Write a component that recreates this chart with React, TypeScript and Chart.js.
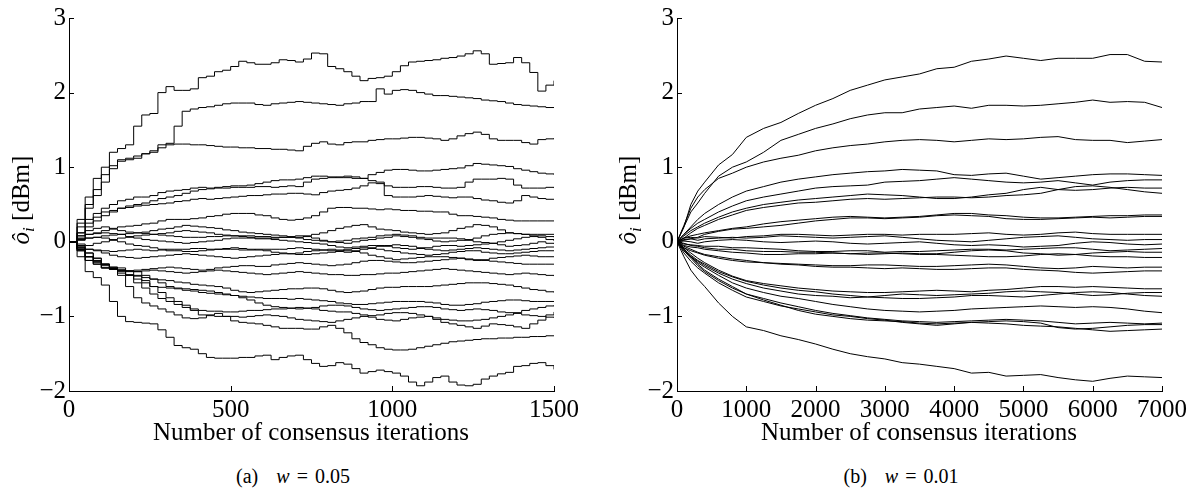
import React, { useEffect, useRef } from 'react';
import { Chart, registerables } from 'chart.js';
Chart.register(...registerables);

// ---------- x grids ----------
const ITER_A = [0,25,50,75,100,125,150,175,200,225,250,275,300,325,350,375,400,425,450,475,500,525,550,575,600,625,650,675,700,725,750,775,800,825,850,875,900,925,950,975,1000,1025,1050,1075,1100,1125,1150,1175,1200,1225,1250,1275,1300,1325,1350,1375,1400,1425,1450,1475,1500];
const ITER_B = [0,100,200,300,400,600,800,1000,1250,1500,1750,2000,2250,2500,2750,3000,3250,3500,3750,4000,4250,4500,4750,5000,5250,5500,5750,6000,6250,6500,6750,7000];

// ---------- tick labels ----------
const Y_TICKS = [-2,-1,0,1,2,3];
const X_TICKS_A = [0,500,1000,1500];
const X_TICKS_B = [0,1000,2000,3000,4000,5000,6000,7000];

// ---------- panel (a) w = 0.05 ----------
const A01 = [0,0.3,0.6,0.85,1.0,1.2,1.25,1.3,1.55,1.7,1.72,2.0,2.08,2.03,2.03,2.05,2.2,2.22,2.28,2.3,2.35,2.42,2.4,2.38,2.38,2.4,2.44,2.43,2.41,2.45,2.53,2.52,2.35,2.32,2.28,2.22,2.16,2.19,2.2,2.22,2.28,2.36,2.41,2.42,2.43,2.44,2.46,2.47,2.49,2.52,2.56,2.52,2.38,2.39,2.4,2.47,2.4,2.27,2.02,2.1,2.16];
const A02 = [0,0.2,0.45,0.62,0.8,0.98,1.08,1.1,1.12,1.18,1.22,1.3,1.32,1.55,1.75,1.78,1.8,1.81,1.83,1.85,1.86,1.86,1.86,1.84,1.83,1.85,1.86,1.87,1.88,1.87,1.86,1.85,1.84,1.83,1.85,1.86,1.88,1.88,2.05,1.98,2.03,2.04,2.03,2.0,1.98,1.96,1.96,1.95,1.94,1.93,1.92,1.9,1.89,1.88,1.86,1.84,1.83,1.82,1.81,1.8,1.8];
const A03 = [0,0.25,0.5,0.7,0.9,1.02,1.1,1.12,1.15,1.18,1.2,1.26,1.3,1.31,1.31,1.3,1.3,1.29,1.28,1.27,1.27,1.26,1.26,1.25,1.25,1.24,1.24,1.23,1.22,1.28,1.32,1.34,1.31,1.3,1.33,1.34,1.34,1.36,1.37,1.38,1.38,1.39,1.4,1.4,1.39,1.38,1.36,1.38,1.42,1.45,1.47,1.44,1.38,1.36,1.36,1.36,1.33,1.31,1.37,1.38,1.39];
const A04 = [0,0.12,0.3,0.38,0.45,0.5,0.55,0.57,0.6,0.6,0.62,0.66,0.68,0.69,0.7,0.72,0.73,0.72,0.73,0.74,0.75,0.75,0.76,0.78,0.8,0.82,0.83,0.83,0.84,0.86,0.88,0.88,0.87,0.86,0.86,0.85,0.85,0.9,0.93,0.96,0.97,0.97,0.96,0.95,0.95,0.96,0.97,0.98,0.99,1.02,1.05,1.04,1.03,1.02,1.01,0.98,0.96,0.94,0.92,0.91,0.9];
const A05 = [0,0.08,0.2,0.28,0.35,0.4,0.45,0.48,0.5,0.52,0.55,0.58,0.6,0.62,0.65,0.68,0.7,0.71,0.72,0.72,0.73,0.73,0.73,0.74,0.74,0.73,0.74,0.75,0.74,0.8,0.84,0.85,0.86,0.87,0.88,0.87,0.85,0.82,0.8,0.75,0.73,0.73,0.73,0.74,0.74,0.73,0.72,0.72,0.73,0.8,0.84,0.84,0.84,0.85,0.84,0.76,0.72,0.72,0.72,0.73,0.72];
const A06 = [0,0.12,0.25,0.33,0.4,0.42,0.45,0.46,0.48,0.49,0.5,0.51,0.52,0.54,0.55,0.57,0.58,0.57,0.58,0.59,0.6,0.61,0.62,0.62,0.63,0.64,0.64,0.65,0.65,0.64,0.63,0.66,0.68,0.69,0.7,0.72,0.75,0.79,0.78,0.62,0.6,0.6,0.6,0.61,0.62,0.61,0.6,0.59,0.6,0.6,0.58,0.56,0.55,0.53,0.52,0.55,0.62,0.6,0.58,0.57,0.57];
const A07 = [0,0.05,0.1,0.12,0.15,0.18,0.2,0.21,0.22,0.24,0.25,0.28,0.3,0.3,0.3,0.31,0.32,0.34,0.35,0.37,0.38,0.38,0.38,0.36,0.35,0.32,0.3,0.29,0.3,0.32,0.35,0.4,0.45,0.46,0.46,0.45,0.45,0.44,0.43,0.44,0.43,0.42,0.42,0.41,0.41,0.4,0.4,0.37,0.35,0.35,0.34,0.33,0.32,0.3,0.29,0.28,0.28,0.28,0.28,0.28,0.28];
const A08 = [0,0.02,0.05,0.06,0.08,0.09,0.1,0.11,0.12,0.11,0.1,0.09,0.08,0.07,0.06,0.06,0.06,0.07,0.07,0.08,0.08,0.08,0.08,0.07,0.07,0.06,0.06,0.06,0.06,0.08,0.1,0.12,0.15,0.18,0.2,0.22,0.23,0.2,0.17,0.16,0.15,0.13,0.12,0.11,0.1,0.11,0.12,0.15,0.18,0.2,0.23,0.22,0.2,0.16,0.12,0.11,0.1,0.1,0.1,0.1,0.1];
const A09 = [0,0.04,0.1,0.11,0.12,0.11,0.1,0.07,0.05,0.03,0.02,0.01,0,-0.01,-0.02,-0.01,0,0.01,0.02,0.04,0.05,0.05,0.05,0.04,0.04,0.05,0.06,0.07,0.08,0.07,0.05,0.02,0,-0.01,-0.02,0,0.02,0.03,0.05,0.06,0.08,0.07,0.06,0.04,0.03,0.01,0,0.01,0.02,0.03,0.05,0.08,0.1,0.11,0.12,0.11,0.1,0.08,0.06,0.03,0.01];
const A10 = [0,-0.03,-0.05,-0.02,0,0.03,0.05,0.06,0.08,0.09,0.1,0.11,0.12,0.14,0.15,0.14,0.13,0.12,0.1,0.09,0.08,0.07,0.06,0.05,0.05,0.03,0.02,0.01,0,-0.01,-0.02,-0.03,-0.05,-0.07,-0.08,-0.07,-0.06,-0.05,-0.05,-0.06,-0.08,-0.09,-0.1,-0.09,-0.08,-0.06,-0.05,-0.05,-0.06,-0.05,-0.04,-0.03,-0.02,-0.04,-0.06,-0.05,-0.04,-0.02,0,-0.02,-0.03];
const A11 = [0,-0.05,-0.1,-0.11,-0.12,-0.13,-0.12,-0.11,-0.1,-0.11,-0.12,-0.11,-0.1,-0.1,-0.1,-0.09,-0.09,-0.1,-0.1,-0.1,-0.1,-0.11,-0.11,-0.1,-0.1,-0.1,-0.1,-0.09,-0.08,-0.09,-0.1,-0.11,-0.12,-0.13,-0.14,-0.12,-0.1,-0.08,-0.06,-0.05,-0.04,-0.05,-0.06,-0.08,-0.1,-0.11,-0.12,-0.11,-0.1,-0.09,-0.08,-0.09,-0.1,-0.11,-0.12,-0.11,-0.1,-0.09,-0.08,-0.07,-0.07];
const A12 = [0,0.03,0.05,0.06,0.05,0.02,0,-0.03,-0.05,-0.06,-0.08,-0.1,-0.12,-0.12,-0.13,-0.13,-0.12,-0.11,-0.1,-0.09,-0.08,-0.09,-0.1,-0.11,-0.12,-0.14,-0.15,-0.16,-0.17,-0.17,-0.16,-0.15,-0.14,-0.12,-0.1,-0.09,-0.08,-0.09,-0.1,-0.12,-0.13,-0.15,-0.16,-0.17,-0.18,-0.17,-0.16,-0.14,-0.13,-0.12,-0.12,-0.14,-0.15,-0.16,-0.16,-0.15,-0.14,-0.13,-0.12,-0.12,-0.12];
const A13 = [0,-0.06,-0.1,-0.12,-0.15,-0.18,-0.2,-0.21,-0.22,-0.21,-0.2,-0.19,-0.18,-0.17,-0.16,-0.17,-0.18,-0.19,-0.2,-0.21,-0.22,-0.21,-0.2,-0.19,-0.18,-0.17,-0.16,-0.16,-0.15,-0.13,-0.12,-0.11,-0.1,-0.11,-0.12,-0.13,-0.15,-0.18,-0.2,-0.22,-0.24,-0.23,-0.22,-0.21,-0.2,-0.2,-0.2,-0.21,-0.22,-0.24,-0.25,-0.24,-0.22,-0.21,-0.2,-0.19,-0.18,-0.19,-0.2,-0.2,-0.2];
const A14 = [0,-0.1,-0.2,-0.25,-0.3,-0.34,-0.38,-0.39,-0.38,-0.37,-0.36,-0.35,-0.34,-0.35,-0.36,-0.37,-0.38,-0.37,-0.35,-0.34,-0.33,-0.32,-0.32,-0.33,-0.33,-0.31,-0.3,-0.29,-0.28,-0.29,-0.3,-0.31,-0.32,-0.31,-0.3,-0.28,-0.26,-0.25,-0.25,-0.26,-0.27,-0.28,-0.28,-0.27,-0.26,-0.25,-0.24,-0.23,-0.22,-0.23,-0.24,-0.25,-0.26,-0.27,-0.28,-0.29,-0.3,-0.3,-0.3,-0.3,-0.3];
const A15 = [0,-0.12,-0.25,-0.3,-0.35,-0.37,-0.38,-0.39,-0.4,-0.39,-0.38,-0.39,-0.4,-0.41,-0.42,-0.41,-0.4,-0.39,-0.38,-0.39,-0.4,-0.41,-0.42,-0.43,-0.44,-0.43,-0.42,-0.41,-0.4,-0.41,-0.42,-0.43,-0.44,-0.44,-0.45,-0.45,-0.44,-0.44,-0.43,-0.42,-0.42,-0.41,-0.4,-0.39,-0.38,-0.37,-0.36,-0.37,-0.38,-0.39,-0.4,-0.41,-0.42,-0.43,-0.44,-0.43,-0.42,-0.43,-0.44,-0.45,-0.46];
const A16 = [0,0.08,0.15,0.18,0.2,0.17,0.15,0.13,0.12,0.13,0.15,0.17,0.18,0.2,0.22,0.21,0.2,0.19,0.18,0.16,0.15,0.13,0.12,0.11,0.1,0.09,0.08,0.06,0.05,0.03,0.02,0.01,0,0.01,0.02,0.04,0.05,0.06,0.08,0.09,0.1,0.09,0.08,0.06,0.05,0.05,0.05,0.05,0.04,0.02,0,-0.01,-0.02,0,0.02,0.04,0.06,0.07,0.08,0.07,0.06];
const A17 = [0,-0.08,-0.15,-0.22,-0.3,-0.36,-0.42,-0.44,-0.46,-0.48,-0.5,-0.51,-0.52,-0.54,-0.55,-0.57,-0.58,-0.59,-0.6,-0.62,-0.65,-0.67,-0.68,-0.67,-0.66,-0.65,-0.64,-0.63,-0.63,-0.62,-0.62,-0.63,-0.65,-0.67,-0.68,-0.67,-0.66,-0.64,-0.62,-0.61,-0.61,-0.6,-0.6,-0.6,-0.6,-0.59,-0.58,-0.57,-0.56,-0.55,-0.55,-0.55,-0.56,-0.57,-0.58,-0.6,-0.62,-0.64,-0.65,-0.67,-0.68];
const A18 = [0,-0.1,-0.2,-0.28,-0.35,-0.37,-0.4,-0.45,-0.5,-0.55,-0.6,-0.61,-0.62,-0.62,-0.63,-0.64,-0.65,-0.66,-0.68,-0.7,-0.72,-0.73,-0.74,-0.75,-0.76,-0.76,-0.76,-0.77,-0.76,-0.77,-0.78,-0.79,-0.8,-0.82,-0.83,-0.84,-0.84,-0.83,-0.82,-0.81,-0.8,-0.8,-0.8,-0.8,-0.81,-0.82,-0.84,-0.85,-0.85,-0.84,-0.83,-0.81,-0.8,-0.79,-0.78,-0.78,-0.79,-0.8,-0.8,-0.8,-0.8];
const A19 = [0,-0.12,-0.25,-0.3,-0.35,-0.36,-0.38,-0.45,-0.55,-0.62,-0.7,-0.76,-0.8,-0.84,-0.88,-0.9,-0.92,-0.93,-0.93,-0.94,-0.94,-0.93,-0.92,-0.92,-0.91,-0.9,-0.9,-0.89,-0.88,-0.89,-0.9,-0.92,-0.93,-0.94,-0.94,-0.96,-0.98,-1.01,-1.04,-1.05,-1.06,-1.04,-1.02,-1.01,-1.0,-1.02,-1.04,-1.05,-1.06,-1.06,-1.05,-1.04,-1.02,-1.0,-0.98,-0.95,-0.92,-0.9,-0.88,-0.86,-0.85];
const A20 = [0,-0.1,-0.2,-0.26,-0.32,-0.34,-0.35,-0.4,-0.45,-0.52,-0.6,-0.68,-0.75,-0.8,-0.85,-0.92,-0.98,-0.99,-1.0,-1.0,-1.0,-1.01,-1.0,-0.99,-0.98,-0.99,-1.0,-1.02,-1.04,-1.05,-1.06,-1.07,-1.08,-1.06,-1.04,-1.02,-1.0,-0.99,-0.98,-0.96,-0.95,-0.95,-0.96,-0.98,-1.0,-1.04,-1.08,-1.1,-1.12,-1.14,-1.16,-1.13,-1.1,-1.11,-1.12,-1.14,-1.16,-1.1,-1.05,-0.98,-0.94];
const A21 = [0,-0.08,-0.15,-0.22,-0.3,-0.35,-0.38,-0.39,-0.4,-0.45,-0.5,-0.55,-0.6,-0.63,-0.65,-0.66,-0.68,-0.69,-0.7,-0.71,-0.72,-0.75,-0.78,-0.82,-0.85,-0.87,-0.88,-0.89,-0.9,-0.89,-0.88,-0.86,-0.85,-0.85,-0.86,-0.88,-0.9,-0.91,-0.92,-0.91,-0.9,-0.89,-0.88,-0.87,-0.87,-0.88,-0.9,-0.91,-0.92,-0.91,-0.9,-0.91,-0.92,-0.94,-0.95,-0.96,-0.98,-0.99,-1.0,-1.01,-1.02];
const A22 = [0,-0.1,-0.2,-0.26,-0.3,-0.36,-0.45,-0.6,-0.75,-0.82,-0.86,-0.9,-0.94,-0.98,-1.02,-1.03,-1.02,-0.98,-0.96,-1.0,-1.06,-1.08,-1.09,-1.1,-1.12,-1.14,-1.16,-1.16,-1.16,-1.17,-1.17,-1.14,-1.12,-1.16,-1.22,-1.3,-1.35,-1.38,-1.42,-1.44,-1.45,-1.45,-1.44,-1.42,-1.4,-1.38,-1.36,-1.34,-1.33,-1.32,-1.31,-1.3,-1.3,-1.29,-1.29,-1.28,-1.28,-1.27,-1.27,-1.26,-1.26];
const A23 = [0,-0.2,-0.4,-0.48,-0.58,-0.8,-1.0,-1.07,-1.08,-1.09,-1.1,-1.18,-1.28,-1.39,-1.42,-1.44,-1.5,-1.55,-1.56,-1.56,-1.56,-1.55,-1.55,-1.53,-1.52,-1.58,-1.55,-1.53,-1.52,-1.58,-1.63,-1.67,-1.66,-1.62,-1.64,-1.7,-1.76,-1.74,-1.72,-1.74,-1.76,-1.8,-1.88,-1.93,-1.88,-1.82,-1.8,-1.88,-1.92,-1.93,-1.91,-1.84,-1.8,-1.77,-1.75,-1.67,-1.66,-1.63,-1.62,-1.66,-1.71];

// ---------- panel (b) w = 0.01 ----------
const B01 = [0,0.2,0.5,0.68,0.8,1.03,1.17,1.4,1.52,1.6,1.72,1.83,1.92,2.03,2.1,2.17,2.21,2.25,2.32,2.34,2.42,2.45,2.49,2.46,2.43,2.46,2.46,2.46,2.51,2.51,2.42,2.41];
const B02 = [0,0.2,0.4,0.52,0.65,0.88,1.0,1.07,1.2,1.36,1.44,1.52,1.58,1.65,1.7,1.73,1.73,1.78,1.8,1.82,1.79,1.83,1.83,1.82,1.83,1.85,1.87,1.9,1.87,1.88,1.87,1.8];
const B03 = [0,0.22,0.45,0.6,0.7,0.85,0.92,1.0,1.07,1.12,1.16,1.22,1.26,1.29,1.31,1.34,1.36,1.37,1.36,1.34,1.36,1.38,1.37,1.38,1.4,1.41,1.37,1.36,1.36,1.33,1.35,1.37];
const B04 = [0,0.1,0.2,0.3,0.38,0.5,0.6,0.68,0.74,0.8,0.84,0.87,0.9,0.92,0.94,0.95,0.97,0.96,0.95,0.9,0.89,0.91,0.92,0.88,0.84,0.86,0.88,0.9,0.91,0.91,0.9,0.89];
const B05 = [0,0.1,0.18,0.25,0.3,0.4,0.48,0.55,0.6,0.64,0.68,0.72,0.74,0.75,0.76,0.8,0.81,0.82,0.84,0.86,0.84,0.82,0.8,0.79,0.8,0.82,0.79,0.76,0.8,0.82,0.83,0.83];
const B06 = [0,0.08,0.15,0.2,0.25,0.33,0.4,0.45,0.5,0.53,0.56,0.58,0.6,0.62,0.64,0.63,0.62,0.6,0.58,0.58,0.6,0.63,0.65,0.7,0.73,0.7,0.69,0.7,0.72,0.73,0.72,0.72];
const B07 = [0,0.05,0.12,0.18,0.22,0.3,0.36,0.42,0.46,0.49,0.52,0.53,0.55,0.57,0.58,0.57,0.58,0.59,0.6,0.6,0.59,0.6,0.62,0.63,0.65,0.7,0.74,0.75,0.73,0.7,0.67,0.65];
const B08 = [0,0.05,0.08,0.1,0.12,0.15,0.18,0.2,0.24,0.27,0.29,0.31,0.33,0.34,0.33,0.32,0.33,0.34,0.36,0.38,0.38,0.36,0.35,0.33,0.32,0.32,0.33,0.34,0.35,0.35,0.36,0.36];
const B09 = [0,0.02,0.04,0.06,0.1,0.14,0.17,0.18,0.2,0.22,0.25,0.28,0.3,0.32,0.32,0.31,0.32,0.33,0.35,0.36,0.35,0.34,0.31,0.3,0.3,0.31,0.32,0.33,0.32,0.33,0.34,0.34];
const B10 = [0,0.05,0.06,0.05,0.07,0.06,0.05,0.07,0.08,0.1,0.1,0.09,0.08,0.09,0.1,0.1,0.09,0.1,0.1,0.1,0.11,0.12,0.1,0.09,0.1,0.12,0.13,0.11,0.1,0.1,0.1,0.1];
const B11 = [0,0.03,0.04,0.02,0.04,0.05,0.06,0.05,0.06,0.08,0.07,0.06,0.05,0.06,0.07,0.08,0.06,0.04,0.02,0.01,0,0.02,0.04,0.06,0.07,0.08,0.06,0.04,0.03,0.02,0.03,0.03];
const B12 = [0,0.01,0,-0.02,0,0.02,0.03,0.02,0,-0.01,0,0.01,0,-0.02,-0.03,-0.02,-0.01,0,-0.02,-0.04,-0.05,-0.04,-0.05,-0.07,-0.06,-0.05,-0.02,0,-0.01,-0.03,-0.04,-0.03];
const B13 = [0,-0.03,-0.04,-0.05,-0.06,-0.06,-0.08,-0.08,-0.09,-0.1,-0.12,-0.13,-0.13,-0.12,-0.12,-0.14,-0.13,-0.13,-0.12,-0.11,-0.1,-0.1,-0.11,-0.1,-0.09,-0.08,-0.08,-0.1,-0.12,-0.11,-0.1,-0.09];
const B14 = [0,-0.05,-0.07,-0.08,-0.1,-0.12,-0.14,-0.15,-0.17,-0.17,-0.16,-0.16,-0.15,-0.16,-0.17,-0.16,-0.15,-0.16,-0.16,-0.14,-0.12,-0.11,-0.12,-0.15,-0.16,-0.18,-0.17,-0.15,-0.14,-0.13,-0.14,-0.14];
const B15 = [0,-0.02,-0.05,-0.06,-0.08,-0.1,-0.1,-0.12,-0.13,-0.13,-0.14,-0.14,-0.15,-0.16,-0.15,-0.15,-0.16,-0.17,-0.17,-0.18,-0.19,-0.2,-0.2,-0.19,-0.17,-0.16,-0.17,-0.19,-0.2,-0.2,-0.21,-0.21];
const B16 = [0,-0.08,-0.12,-0.15,-0.18,-0.22,-0.25,-0.27,-0.28,-0.29,-0.3,-0.31,-0.32,-0.32,-0.31,-0.31,-0.32,-0.33,-0.33,-0.32,-0.31,-0.3,-0.31,-0.33,-0.35,-0.36,-0.35,-0.33,-0.34,-0.35,-0.34,-0.34];
const B17 = [0,-0.06,-0.1,-0.14,-0.17,-0.2,-0.23,-0.25,-0.28,-0.3,-0.31,-0.33,-0.34,-0.34,-0.35,-0.36,-0.35,-0.36,-0.37,-0.37,-0.36,-0.35,-0.35,-0.37,-0.38,-0.39,-0.41,-0.42,-0.41,-0.4,-0.39,-0.39];
const B18 = [0,-0.08,-0.15,-0.22,-0.28,-0.38,-0.46,-0.52,-0.56,-0.59,-0.62,-0.64,-0.66,-0.67,-0.68,-0.68,-0.67,-0.66,-0.65,-0.66,-0.67,-0.65,-0.64,-0.62,-0.6,-0.6,-0.61,-0.6,-0.61,-0.62,-0.63,-0.63];
const B19 = [0,-0.1,-0.18,-0.25,-0.3,-0.4,-0.47,-0.53,-0.58,-0.62,-0.65,-0.67,-0.7,-0.72,-0.74,-0.75,-0.76,-0.76,-0.75,-0.74,-0.72,-0.72,-0.73,-0.74,-0.72,-0.7,-0.68,-0.67,-0.68,-0.7,-0.72,-0.73];
const B20 = [0,-0.1,-0.2,-0.28,-0.34,-0.45,-0.55,-0.62,-0.68,-0.73,-0.76,-0.8,-0.84,-0.87,-0.9,-0.92,-0.93,-0.94,-0.93,-0.92,-0.9,-0.89,-0.88,-0.87,-0.86,-0.87,-0.88,-0.87,-0.88,-0.9,-0.93,-0.95];
const B21 = [0,-0.12,-0.22,-0.32,-0.4,-0.52,-0.62,-0.7,-0.76,-0.82,-0.87,-0.92,-0.96,-0.99,-1.02,-1.04,-1.06,-1.07,-1.08,-1.07,-1.06,-1.05,-1.04,-1.05,-1.06,-1.08,-1.1,-1.09,-1.08,-1.09,-1.1,-1.09];
const B22 = [0,-0.15,-0.26,-0.35,-0.42,-0.55,-0.65,-0.74,-0.8,-0.86,-0.9,-0.94,-0.98,-1.0,-1.03,-1.05,-1.08,-1.1,-1.12,-1.1,-1.08,-1.07,-1.06,-1.07,-1.09,-1.15,-1.17,-1.16,-1.14,-1.12,-1.11,-1.11];
const B23 = [0,-0.1,-0.2,-0.3,-0.38,-0.5,-0.6,-0.7,-0.78,-0.85,-0.92,-0.97,-1.0,-1.03,-1.05,-1.06,-1.07,-1.09,-1.1,-1.09,-1.08,-1.09,-1.1,-1.12,-1.13,-1.14,-1.16,-1.18,-1.2,-1.19,-1.18,-1.17];
const B24 = [0,-0.2,-0.38,-0.5,-0.6,-0.82,-1.0,-1.14,-1.19,-1.26,-1.31,-1.37,-1.44,-1.5,-1.54,-1.57,-1.62,-1.64,-1.67,-1.7,-1.76,-1.75,-1.8,-1.79,-1.78,-1.82,-1.85,-1.87,-1.83,-1.8,-1.81,-1.82];
const B25 = [0,-0.12,-0.2,-0.26,-0.32,-0.42,-0.5,-0.56,-0.62,-0.66,-0.7,-0.72,-0.73,-0.75,-0.74,-0.72,-0.7,-0.71,-0.72,-0.71,-0.7,-0.69,-0.67,-0.66,-0.67,-0.68,-0.7,-0.72,-0.71,-0.69,-0.68,-0.68];

const SERIES_A = [A01,A02,A03,A04,A05,A06,A07,A08,A09,A10,A11,A12,A13,A14,A15,A16,A17,A18,A19,A20,A21,A22,A23];
const SERIES_B = [B01,B02,B03,B04,B05,B06,B07,B08,B09,B10,B11,B12,B13,B14,B15,B16,B17,B18,B19,B20,B21,B22,B23,B24,B25];

const SERIF = "'Liberation Serif', 'Times New Roman', serif";

const inwardTicks = {
  id: 'inwardTicks',
  afterDraw(chart: any) {
    const { ctx, chartArea: a, scales } = chart;
    ctx.save();
    ctx.strokeStyle = '#000';
    ctx.lineWidth = 1;
    ctx.beginPath();
    scales.x.ticks.forEach((t: any) => {
      const x = Math.round(scales.x.getPixelForValue(t.value)) + 0.5;
      ctx.moveTo(x, a.bottom);
      ctx.lineTo(x, a.bottom - 5);
    });
    scales.y.ticks.forEach((t: any) => {
      const y = Math.round(scales.y.getPixelForValue(t.value)) + 0.5;
      ctx.moveTo(a.left, y);
      ctx.lineTo(a.left + 5, y);
    });
    ctx.stroke();
    ctx.restore();
  },
};

type PanelProps = {
  left: number;
  width: number;
  iters: number[];
  series: number[][];
  xTicks: number[];
  xMax: number;
  stepped: boolean;
  yAxisWidth: number;
  rightPad: number;
};

function Panel({ left, width, iters, series, xTicks, xMax, stepped, yAxisWidth, rightPad }: PanelProps) {
  const ref = useRef<HTMLCanvasElement>(null);
  useEffect(() => {
    const font = { family: SERIF, size: 25 };
    const chart = new Chart(ref.current as HTMLCanvasElement, {
      type: 'line',
      data: {
        datasets: series.map((s) => ({
          data: s.map((v, i) => ({ x: iters[i], y: v })),
          borderColor: '#000',
          borderWidth: 1,
          pointRadius: 0,
          fill: false,
          stepped: stepped,
        })),
      },
      options: {
        animation: false,
        responsive: false,
        events: [],
        plugins: { legend: { display: false }, tooltip: { enabled: false } },
        layout: { padding: { top: 8, right: rightPad, left: 0, bottom: 0 } },
        scales: {
          x: {
            type: 'linear',
            min: 0,
            max: xMax,
            afterBuildTicks: (s: any) => { s.ticks = xTicks.map((v) => ({ value: v })); },
            afterFit: (s: any) => { s.height = 59; },
            grid: { display: false, drawTicks: false },
            border: { display: true, color: '#000', width: 1 },
            ticks: { font, color: '#000', padding: 4, maxRotation: 0, autoSkip: false, callback: (v: any) => String(v) },
          },
          y: {
            type: 'linear',
            min: -2,
            max: 3,
            afterBuildTicks: (s: any) => { s.ticks = Y_TICKS.map((v) => ({ value: v })); },
            afterFit: (s: any) => { s.width = yAxisWidth; },
            grid: { display: false, drawTicks: false },
            border: { display: true, color: '#000', width: 1 },
            ticks: { font, color: '#000', padding: 3, autoSkip: false, callback: (v: any) => (Number(v) < 0 ? '\u2212' + String(-Number(v)) : String(v)) },
          },
        },
      } as any,
      plugins: [inwardTicks],
    });
    return () => chart.destroy();
  }, []);
  return (
    <canvas
      ref={ref}
      width={width}
      height={450}
      style={{ position: 'absolute', left, top: 0, width, height: 450 }}
    />
  );
}

function YTitle({ cx }: { cx: number }) {
  return (
    <div
      style={{
        position: 'absolute',
        left: cx - 80,
        top: 200 - 15,
        width: 160,
        height: 30,
        lineHeight: '30px',
        textAlign: 'center',
        transform: 'rotate(-90deg)',
        fontFamily: SERIF,
        fontSize: 25,
        whiteSpace: 'nowrap',
        color: '#000',
      }}
    >
      <i>ô</i>
      <sub style={{ fontSize: 17, fontStyle: 'italic', verticalAlign: '-5px' }}>i</sub>
      {' [dBm]'}
    </div>
  );
}

function XTitle({ cx }: { cx: number }) {
  return (
    <div
      style={{
        position: 'absolute',
        left: cx - 200,
        top: 419,
        width: 400,
        height: 25,
        lineHeight: '25px',
        textAlign: 'center',
        fontFamily: SERIF,
        fontSize: 25,
        whiteSpace: 'nowrap',
        color: '#000',
      }}
    >
      Number of consensus iterations
    </div>
  );
}

function Caption({ cx, tag, w }: { cx: number; tag: string; w: string }) {
  return (
    <div
      style={{
        position: 'absolute',
        left: cx - 100,
        top: 466,
        width: 200,
        height: 20,
        lineHeight: '20px',
        textAlign: 'center',
        fontFamily: SERIF,
        fontSize: 20,
        whiteSpace: 'nowrap',
        color: '#000',
      }}
    >
      <span>{tag}</span>
      <span style={{ marginLeft: 18 }}><i>w</i></span>
      <span style={{ margin: '0 7px' }}>=</span>
      <span>{w}</span>
    </div>
  );
}

export default function App() {
  return (
    <div style={{ position: 'absolute', left: 0, top: 0, width: 1203, height: 488, background: '#fff', overflow: 'hidden' }}>
      <Panel left={0} width={600} iters={ITER_A} series={SERIES_A} xTicks={X_TICKS_A} xMax={1500} stepped={true} yAxisWidth={69} rightPad={46} />
      <Panel left={600} width={603} iters={ITER_B} series={SERIES_B} xTicks={X_TICKS_B} xMax={7000} stepped={false} yAxisWidth={77} rightPad={41} />
      <YTitle cx={21} />
      <YTitle cx={628} />
      <XTitle cx={311} />
      <XTitle cx={919} />
      <Caption cx={293} tag="(a)" w="0.05" />
      <Caption cx={901} tag="(b)" w="0.01" />
    </div>
  );
}
